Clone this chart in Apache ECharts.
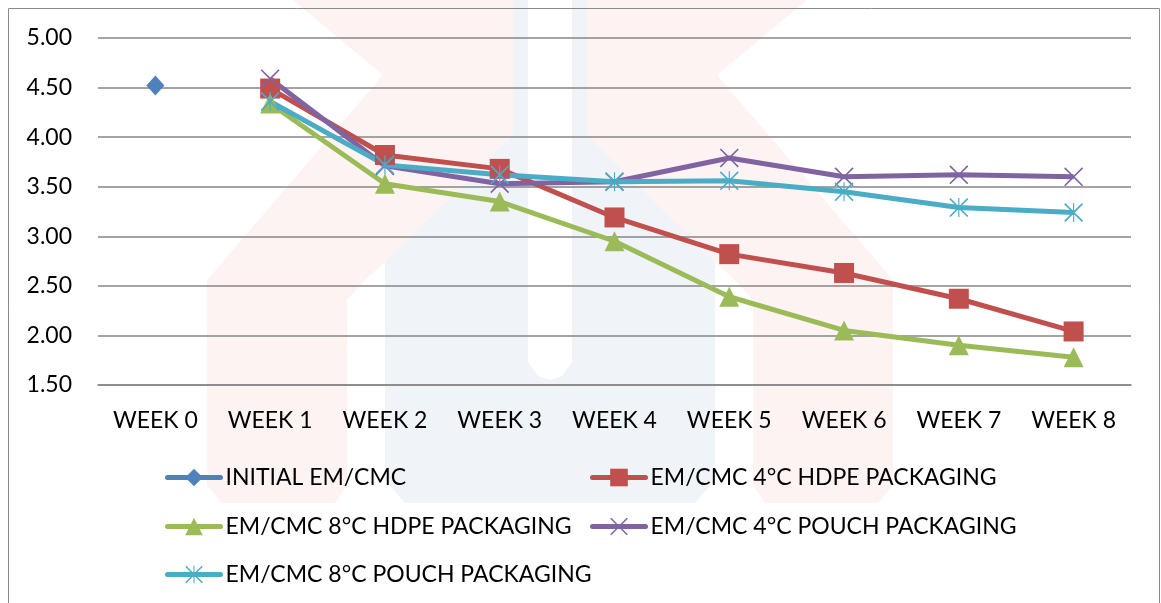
<!DOCTYPE html>
<html>
<head>
<meta charset="utf-8">
<script src="https://cdn.jsdelivr.net/npm/echarts@6/dist/echarts.min.js"></script>
<style>
  html, body { margin: 0; padding: 0; background: #fff; }
  #chart { width: 1161px; height: 603px; }
</style>
</head>
<body>
<div id="chart"></div>
<script>
// Weekly scores for each storage condition
const weeks = ['WEEK 0', 'WEEK 1', 'WEEK 2', 'WEEK 3', 'WEEK 4', 'WEEK 5', 'WEEK 6', 'WEEK 7', 'WEEK 8'];
const initialEmCmc = [4.52, null, null, null, null, null, null, null, null];
const hdpe4C  = [null, 4.49, 3.82, 3.68, 3.19, 2.82, 2.63, 2.37, 2.04];
const hdpe8C  = [null, 4.34, 3.53, 3.35, 2.95, 2.39, 2.05, 1.90, 1.78];
const pouch4C = [null, 4.59, 3.71, 3.53, 3.55, 3.79, 3.60, 3.62, 3.60];
const pouch8C = [null, 4.36, 3.72, 3.62, 3.55, 3.56, 3.45, 3.29, 3.24];
const yTicks = { min: 1.5, max: 5, step: 0.5 };

const FONT = 'Lato, "Open Sans", sans-serif';
const FONT_SIZE = 23;

// Marker shapes: a cross and a six-armed asterisk
const crossPath = 'path://M0,1.2 L1.2,0 L10,8.8 L18.8,0 L20,1.2 L11.2,10 L20,18.8 L18.8,20 L10,11.2 L1.2,20 L0,18.8 L8.8,10 Z';
const starPath = 'path://M0,1.2 L1.2,0 L10,8.8 L18.8,0 L20,1.2 L11.2,10 L20,18.8 L18.8,20 L10,11.2 L1.2,20 L0,18.8 L8.8,10 Z M9.4,0 L10.6,0 L10.6,20 L9.4,20 Z';

function lineSeries(name, data, color, symbol, size) {
  return {
    name: name,
    type: 'line',
    data: data,
    symbol: symbol,
    symbolSize: size,
    showAllSymbol: true,
    connectNulls: false,
    lineStyle: { color: color, width: 5 },
    itemStyle: { color: color },
    emphasis: { disabled: true },
    z: 3
  };
}

const legendText = { fontFamily: FONT, fontSize: FONT_SIZE, color: '#000' };
function legendAt(name, left, top) {
  return {
    data: [name], left: left, top: top, padding: 0,
    itemWidth: 53, itemHeight: 22, itemGap: 0,
    lineStyle: { width: 5, cap: 'round' },
    textStyle: legendText, selectedMode: false
  };
}

// Faint background emblem: a blue slotted cup between two red arches
const redTint = '#fef3f3';
const blueTint = '#f0f4f9';
const leftArch = [[293,0],[513,0],[513,135],[385,262],[365,280],[347,300],[347,485],[335,503],[222,503],[207,485],[207,280],[383,75]];
const rightArch = leftArch.map(p => [1100 - p[0], p[1]]);
const emblem = [
  { type: 'polygon', silent: true, z: -10,
    shape: { points: [[385,0],[715,0],[715,480],[695,503],[405,503],[385,480]] },
    style: { fill: blueTint } },
  { type: 'polygon', silent: true, z: -9,
    shape: { points: [[528,0],[572,0],[572,362],[562,376],[550,380],[538,376],[528,362]] },
    style: { fill: '#ffffff' } },
  { type: 'polygon', silent: true, z: -8, shape: { points: leftArch }, style: { fill: redTint } },
  { type: 'polygon', silent: true, z: -8, shape: { points: rightArch }, style: { fill: redTint } },
  { type: 'rect', silent: true, z: 100,
    shape: { x: 8.5, y: 8.5, width: 1151, height: 610 },
    style: { fill: 'none', stroke: '#8a8a8a', lineWidth: 1 } }
];

const chart = echarts.init(document.getElementById('chart'));
chart.setOption({
  animation: false,
  backgroundColor: '#fff',
  graphic: emblem,
  grid: { left: 98, right: 30, top: 38, bottom: 218 },
  xAxis: {
    type: 'category',
    data: weeks,
    boundaryGap: true,
    axisLine: { lineStyle: { color: '#868686', width: 1.5 } },
    axisTick: { show: false },
    axisLabel: { fontFamily: FONT, fontSize: FONT_SIZE, color: '#000', margin: 24 }
  },
  yAxis: {
    type: 'value',
    min: yTicks.min, max: yTicks.max, interval: yTicks.step,
    axisLine: { show: false },
    axisTick: { show: false },
    splitLine: { lineStyle: { color: '#868686', width: 1.5 } },
    axisLabel: {
      fontFamily: FONT, fontSize: FONT_SIZE, color: '#000', margin: 26,
      formatter: v => v.toFixed(2)
    }
  },
  legend: [
    legendAt('INITIAL EM/CMC', 165, 466),
    legendAt('EM/CMC 4°C HDPE PACKAGING', 590, 466),
    legendAt('EM/CMC 8°C HDPE PACKAGING', 165, 515),
    legendAt('EM/CMC 4°C POUCH PACKAGING', 590, 515),
    legendAt('EM/CMC 8°C POUCH PACKAGING', 165, 563)
  ],
  series: [
    lineSeries('INITIAL EM/CMC', initialEmCmc, '#4F81BD', 'diamond', [18, 20]),
    lineSeries('EM/CMC 4°C HDPE PACKAGING', hdpe4C, '#C0504D', 'rect', 20),
    lineSeries('EM/CMC 8°C HDPE PACKAGING', hdpe8C, '#9BBB59', 'triangle', 20),
    lineSeries('EM/CMC 4°C POUCH PACKAGING', pouch4C, '#8064A2', crossPath, 19),
    lineSeries('EM/CMC 8°C POUCH PACKAGING', pouch8C, '#4BACC6', starPath, 19)
  ]
});
</script>
</body>
</html>
